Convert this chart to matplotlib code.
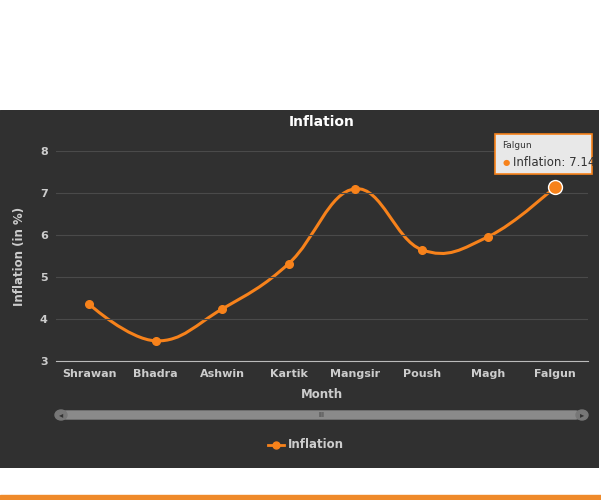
import matplotlib.pyplot as plt
from matplotlib.path import Path
from matplotlib.patches import PathPatch, FancyBboxPatch, Rectangle
import numpy as np

months = ['Shrawan', 'Bhadra', 'Ashwin', 'Kartik', 'Mangsir', 'Poush', 'Magh', 'Falgun']
inflation = [4.35, 3.48, 4.24, 5.32, 7.10, 5.65, 5.96, 7.14]

W, H = 601, 500
fig = plt.figure(figsize=(W / 100, H / 100), dpi=100)
fig.patch.set_facecolor('white')

# dark panel
panel = fig.add_axes([0, 32 / H, 599 / W, 358 / H])
panel.set_axis_off()
panel.add_patch(Rectangle((0, 0), 1, 1, transform=panel.transAxes, color='#303030'))
# orange line at bottom
fig.add_artist(Rectangle((0, 0), 1, 5 / H, transform=fig.transFigure, color='#ef8a2a'))

ax = fig.add_axes([56 / W, 139 / H, 532 / W, 210 / H])
ax.set_facecolor('none')
x = np.arange(len(months))
y = np.array(inflation)

# Highcharts-style spline via cubic bezier
smooth = 1.5
verts = [(x[0], y[0])]
codes = [Path.MOVETO]
def ctrl(i):
    lx = (smooth * x[i] + x[i - 1]) / (smooth + 1)
    ly = (smooth * y[i] + y[i - 1]) / (smooth + 1)
    rx = (smooth * x[i] + x[i + 1]) / (smooth + 1)
    ry = (smooth * y[i] + y[i + 1]) / (smooth + 1)
    corr = 0
    if rx != lx:
        corr = ((ry - ly) * (rx - x[i])) / (rx - lx) + y[i] - ry
    ly += corr
    ry += corr
    if ly > max(y[i - 1], y[i]) or ly < min(y[i - 1], y[i]):
        pass
    return (lx, ly), (rx, ry)
cps = {i: ctrl(i) for i in range(1, len(x) - 1)}
for i in range(1, len(x)):
    c1 = cps[i - 1][1] if i - 1 in cps else (x[i - 1], y[i - 1])
    c2 = cps[i][0] if i in cps else (x[i], y[i])
    verts += [c1, c2, (x[i], y[i])]
    codes += [Path.CURVE4] * 3
ax.add_patch(PathPatch(Path(verts, codes), fill=False, edgecolor='#f7821b', lw=2.2))
ax.plot(x[:-1], y[:-1], 'o', color='#f7821b', ms=5.5)
ax.plot(x[-1], y[-1], 'o', color='#f7821b', ms=10, mec='#ffffff', mew=1)

ax.set_xlim(-0.5, len(months) - 0.5)
ax.set_ylim(3, 8)
ax.set_yticks([3, 4, 5, 6, 7, 8])
ax.set_xticks(x)
ax.set_xticklabels(months)
ax.tick_params(colors='#cccccc', labelsize=8, length=0, pad=6)
for t in ax.get_xticklabels() + ax.get_yticklabels():
    t.set_fontweight('bold')
ax.grid(axis='y', color='#4a4a4a', lw=0.8)
for s in ['top', 'right', 'left']:
    ax.spines[s].set_visible(False)
ax.spines['bottom'].set_color('#bbbbbb')
ax.set_xlabel('Month', color='#cccccc', fontsize=8.5, fontweight='bold', labelpad=6)
ax.set_ylabel('Inflation (in %)', color='#cccccc', fontsize=8.5, fontweight='bold', labelpad=10)
ax.set_title('Inflation', color='white', fontsize=10, fontweight='bold', pad=18)

# scrollbar
fig.add_artist(FancyBboxPatch((62 / W, 411 / H * 0 + 81 / H), 518 / W, 8 / H,
                              boxstyle='round,pad=0,rounding_size=0.008',
                              transform=fig.transFigure, color='#8a8a8a'))
for cx in (61, 582):
    fig.add_artist(plt.Circle((cx / W, 85 / H), 6 / W, transform=fig.transFigure, color='#777777'))
fig.text(61 / W, 85 / H, '◂', color='#333333', fontsize=6, ha='center', va='center')
fig.text(582 / W, 85 / H, '▸', color='#333333', fontsize=6, ha='center', va='center')
fig.text(321 / W, 85 / H, 'III', color='#333333', fontsize=5, ha='center', va='center')

# legend
fig.add_artist(plt.Line2D([268 / W, 284 / W], [55 / H, 55 / H], color='#f7821b', lw=2, transform=fig.transFigure))
fig.add_artist(plt.Line2D([276 / W], [55 / H], marker='o', color='#f7821b', ms=5, transform=fig.transFigure))
fig.text(288 / W, 55 / H, 'Inflation', color='#cccccc', fontsize=8.5, fontweight='bold', va='center')

# tooltip
fig.add_artist(FancyBboxPatch((495 / W, 326 / H), 97 / W, 40 / H, boxstyle='square,pad=0',
                              transform=fig.transFigure, fc='#e8e8e8', ec='#f7821b', lw=1.2))
fig.text(502 / W, 354 / H, 'Falgun', fontsize=6.5, color='#333333', va='center')
fig.text(503 / W, 338 / H, '●', fontsize=6, color='#f7821b', va='center')
fig.text(513 / W, 338 / H, 'Inflation: 7.14', fontsize=8.5, color='#333333', va='center')

fig.savefig('out.png', dpi=100)
